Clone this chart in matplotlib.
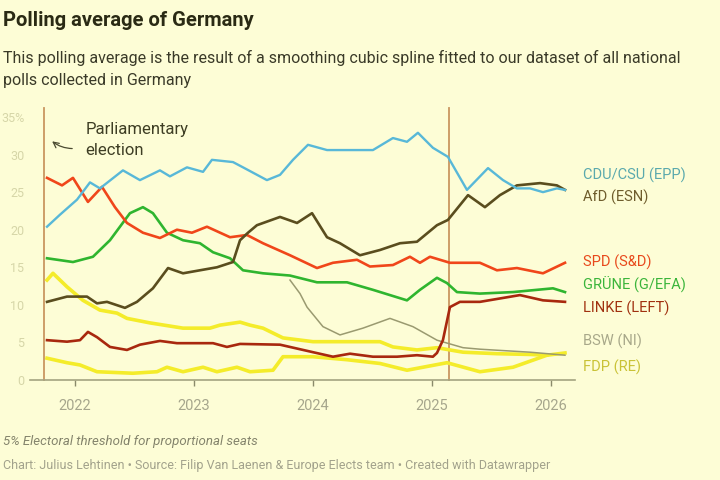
import matplotlib.pyplot as plt

plt.rcParams["font.family"] = ["Roboto", "DejaVu Sans"]

BG = "#fdfdd6"

# decimal years and vote shares (%)
cdu_x = [2021.765, 2021.874, 2022.017, 2022.126, 2022.210, 2022.403, 2022.546, 2022.714,
         2022.798, 2022.941, 2023.076, 2023.151, 2023.328, 2023.412, 2023.613, 2023.723,
         2023.832, 2023.958, 2024.118, 2024.504, 2024.672, 2024.790, 2024.882, 2025.008,
         2025.134, 2025.294, 2025.471, 2025.597, 2025.714, 2025.824, 2025.933, 2026.050, 2026.118]
cdu_y = [20.4, 22.0, 24.0, 26.3, 25.5, 27.9, 26.6, 27.9, 27.1, 28.3, 27.7, 29.3, 29.0, 28.3,
         26.6, 27.3, 29.3, 31.3, 30.6, 30.6, 32.2, 31.7, 32.9, 30.9, 29.7, 25.3, 28.2, 26.6,
         25.5, 25.5, 25.0, 25.5, 25.3]

afd_x = [2021.765, 2021.933, 2022.101, 2022.185, 2022.269, 2022.420, 2022.521, 2022.655,
         2022.782, 2022.908, 2023.050, 2023.193, 2023.328, 2023.387, 2023.454, 2023.529,
         2023.723, 2023.866, 2023.992, 2024.118, 2024.227, 2024.395, 2024.563, 2024.731,
         2024.874, 2025.042, 2025.134, 2025.303, 2025.445, 2025.571, 2025.714, 2025.908,
         2026.050, 2026.118]
afd_y = [10.4, 11.1, 11.1, 10.2, 10.4, 9.6, 10.4, 12.2, 14.9, 14.2, 14.6, 15.0, 15.7, 18.6,
         19.6, 20.6, 21.7, 20.9, 22.2, 19.0, 18.2, 16.6, 17.3, 18.2, 18.4, 20.6, 21.3, 24.6,
         23.0, 24.6, 25.9, 26.2, 25.9, 25.3]

spd_x = [2021.765, 2021.891, 2021.983, 2022.109, 2022.227, 2022.336, 2022.437, 2022.571,
         2022.714, 2022.857, 2022.983, 2023.109, 2023.303, 2023.445, 2023.580, 2023.807,
         2024.034, 2024.168, 2024.370, 2024.479, 2024.672, 2024.815, 2024.899, 2024.983,
         2025.151, 2025.403, 2025.546, 2025.714, 2025.933, 2026.118]
spd_y = [26.9, 25.9, 26.9, 23.7, 25.7, 23.0, 20.9, 19.6, 18.9, 20.0, 19.6, 20.4, 19.0, 19.3,
         18.2, 16.6, 14.9, 15.6, 16.0, 15.1, 15.3, 16.4, 15.6, 16.4, 15.6, 15.6, 14.6, 14.9,
         14.2, 15.6]

gru_x = [2021.765, 2021.983, 2022.151, 2022.294, 2022.462, 2022.571, 2022.655, 2022.773,
         2022.908, 2023.050, 2023.160, 2023.303, 2023.412, 2023.580, 2023.807, 2024.034,
         2024.286, 2024.504, 2024.790, 2024.899, 2025.042, 2025.126, 2025.210, 2025.403,
         2025.681, 2026.017, 2026.118]
gru_y = [16.2, 15.7, 16.4, 18.6, 22.2, 23.0, 22.2, 19.6, 18.6, 18.2, 17.0, 16.2, 14.6, 14.2,
         13.9, 13.0, 13.0, 12.0, 10.6, 12.0, 13.6, 12.9, 11.7, 11.5, 11.7, 12.2, 11.7]

lin_x = [2021.765, 2021.933, 2022.042, 2022.109, 2022.185, 2022.294, 2022.437, 2022.546,
         2022.714, 2022.857, 2023.160, 2023.277, 2023.387, 2023.723, 2024.000, 2024.168,
         2024.311, 2024.504, 2024.706, 2024.874, 2025.008, 2025.042, 2025.092, 2025.151,
         2025.235, 2025.403, 2025.739, 2025.933, 2026.118]
lin_y = [5.3, 5.1, 5.3, 6.4, 5.7, 4.4, 4.0, 4.7, 5.2, 4.9, 4.9, 4.4, 4.8, 4.7, 3.7, 3.1, 3.5,
         3.1, 3.1, 3.3, 3.1, 3.6, 5.3, 9.7, 10.4, 10.4, 11.3, 10.6, 10.4]

bsw_x = [2023.807, 2023.891, 2023.950, 2024.084, 2024.227, 2024.420, 2024.647, 2024.840,
         2025.042, 2025.261, 2025.403, 2025.824, 2026.118]
bsw_y = [13.3, 11.5, 9.7, 7.1, 6.0, 6.9, 8.2, 7.1, 5.3, 4.3, 4.1, 3.7, 3.3]

fdp_x = [2021.765, 2021.815, 2021.933, 2022.067, 2022.210, 2022.353, 2022.437, 2022.630,
         2022.908, 2023.134, 2023.218, 2023.387, 2023.471, 2023.580, 2023.748, 2024.000,
         2024.286, 2024.563, 2024.672, 2024.874, 2025.042, 2025.261, 2025.546, 2025.824,
         2025.966, 2026.118]
fdp_y = [13.3, 14.2, 12.4, 10.6, 9.3, 8.9, 8.2, 7.6, 6.9, 6.9, 7.3, 7.7, 7.3, 6.9, 5.6, 5.1,
         5.1, 5.1, 4.4, 4.0, 4.3, 3.7, 3.5, 3.4, 3.3, 3.6]

fw_x = [2021.765, 2021.933, 2022.042, 2022.185, 2022.487, 2022.689, 2022.773, 2022.908,
        2023.076, 2023.193, 2023.361, 2023.471, 2023.664, 2023.748, 2024.000, 2024.286,
        2024.563, 2024.790, 2025.126, 2025.403, 2025.681, 2025.966]
fw_y = [2.9, 2.3, 2.0, 1.1, 0.9, 1.1, 1.7, 1.1, 1.7, 1.1, 1.7, 1.1, 1.3, 3.1, 3.1, 2.7,
        2.2, 1.3, 2.3, 1.1, 1.7, 3.3]

elections = [2021.736, 2025.145]
year_ticks = [2022, 2023, 2024, 2025, 2026]
y_ticks = [0, 5, 10, 15, 20, 25, 30, 35]
y_labels = ["0", "5", "10", "15", "20", "25", "30", "35%"]

labels = [
    ("CDU/CSU (EPP)", 27.2, "#5aa9ad"),
    ("AfD (ESN)", 24.3, "#6e5c2c"),
    ("SPD (S&D)", 15.6, "#e8491c"),
    ("GRÜNE (G/EFA)", 12.6, "#3bb53b"),
    ("LINKE (LEFT)", 9.6, "#a0300f"),
    ("BSW (NI)", 5.1, "#a8a88a"),
    ("FDP (RE)", 1.7, "#c9c236"),
]

fig = plt.figure(figsize=(7.2, 4.8), dpi=100, facecolor=BG)
ax = fig.add_axes([30 / 720, 100 / 480, 545 / 720, 263 / 480], facecolor=BG)

for x in elections:
    ax.axvline(x, color="#c99660", lw=1.3, ymin=0, ymax=1.035, zorder=1, clip_on=False)

ax.plot(fw_x, fw_y, color="#f4ec2a", lw=2.6, zorder=2)
ax.plot(fdp_x, fdp_y, color="#f4ec2a", lw=2.6, zorder=2)
ax.plot(bsw_x, bsw_y, color="#9a9a70", lw=1.1, zorder=3)
ax.plot(lin_x, lin_y, color="#a8280e", lw=1.9, zorder=4)
ax.plot(gru_x, gru_y, color="#2fb52f", lw=1.9, zorder=4)
ax.plot(spd_x, spd_y, color="#f0461a", lw=1.9, zorder=4)
ax.plot(afd_x, afd_y, color="#5a4d1e", lw=1.9, zorder=5)
ax.plot(cdu_x, cdu_y, color="#58b8d8", lw=1.7, zorder=5)

ax.set_xlim(2021.622, 2026.202)
ax.set_ylim(0, 35)
ax.set_xticks(year_ticks)
ax.set_xticklabels([str(y) for y in year_ticks])
ax.set_yticks(y_ticks)
ax.set_yticklabels(y_labels)
ax.tick_params(axis="y", length=0, pad=4, labelsize=9, labelcolor="#d6d6a8")
ax.tick_params(axis="x", length=4, width=1, color="#8a8a6a", pad=10,
               labelsize=10.5, labelcolor="#a6a68c")
for s in ["top", "right", "left"]:
    ax.spines[s].set_visible(False)
ax.spines["bottom"].set_color("#a4a480")
ax.spines["bottom"].set_linewidth(1.2)

for text, yv, col in labels:
    ax.text(2026.27, yv, text, color=col, fontsize=10.5, va="center", ha="left",
            clip_on=False)

ax.annotate("", xy=(2021.79, 32.0), xytext=(2022.0, 30.8),
            arrowprops=dict(arrowstyle="->", color="#4a4a30", lw=0.9,
                            connectionstyle="arc3,rad=-0.2"))
ax.text(2022.09, 33.3, "Parliamentary", fontsize=12, color="#3e3e24", va="center")
ax.text(2022.09, 30.6, "election", fontsize=12, color="#3e3e24", va="center")

fig.text(3 / 720, 1 - 20 / 480, "Polling average of Germany", fontsize=14.5,
         fontweight="bold", color="#2a2a14", va="center")
fig.text(3 / 720, 1 - 58 / 480,
         "This polling average is the result of a smoothing cubic spline fitted to our dataset of all national",
         fontsize=11.5, color="#3a3a28", va="center")
fig.text(3 / 720, 1 - 80 / 480, "polls collected in Germany", fontsize=11.5,
         color="#3a3a28", va="center")
fig.text(3 / 720, 1 - 441 / 480, "5% Electoral threshold for proportional seats",
         fontsize=9.5, style="italic", color="#84846c", va="center")
fig.text(3 / 720, 1 - 465 / 480,
         "Chart: Julius Lehtinen \u2022 Source: Filip Van Laenen & Europe Elects team \u2022 Created with Datawrapper",
         fontsize=9, color="#a2a28c", va="center")

fig.savefig("out.png", dpi=100, facecolor=BG)
